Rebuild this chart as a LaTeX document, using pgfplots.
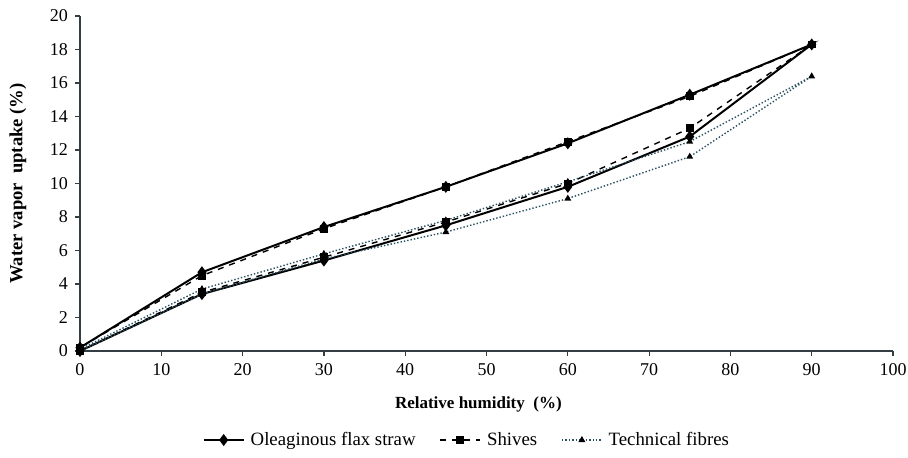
\documentclass[border=0pt]{standalone}
\usepackage{pgfplots}
\pgfplotsset{compat=1.18}
\usetikzlibrary{calc}
\usepackage{fontspec}
\setmainfont{Liberation Serif}
\definecolor{axgray}{RGB}{50,62,68}
\definecolor{dotcol}{RGB}{40,80,95}

\begin{document}
\begin{tikzpicture}[x=1pt,y=1pt]
\begin{axis}[
    name=ax,
    scale only axis,
    width=406.5pt, height=167.5pt,
    xmin=0, xmax=100, ymin=0, ymax=20,
    xtick={0,10,...,100},
    ytick={0,2,...,20},
    axis lines*=left,
    axis line style={axgray, line width=0.9pt},
    tick style={axgray, line width=0.6pt},
    tick align=outside,
    major tick length=2.5pt,
    tick label style={font=\fontsize{9}{10}\selectfont},
    /pgf/number format/assume math mode=true,
    xlabel={\textbf{Relative humidity\ \ (\%)}},
    ylabel={\textbf{Water vapor\ \ uptake (\%)}},
    xlabel style={font=\fontsize{8.5}{9}\selectfont, at={(axis description cs:0.49,-0.161)}, anchor=center},
    ylabel style={font=\fontsize{9.3}{10}\selectfont, at={(axis description cs:-0.0763,0.5)}, anchor=center},
    clip=false,
    legend style={draw=none, at={(0.477,-0.2657)}, anchor=center,
        font=\fontsize{9.4}{10}\selectfont, inner sep=0pt,
        /tikz/every odd column/.append style={column sep=1pt},
        /tikz/every even column/.append style={column sep=10pt}},
    legend columns=3,
    legend cell align=left,
    legend image code/.code={\draw[#1, mark repeat=2, mark phase=2] plot coordinates {(0pt,0pt) (10pt,0pt) (20pt,0pt)};},
]
% Oleaginous flax straw: sorption then desorption
\addplot[black, line width=1pt, mark=diamond*, mark size=2.2pt, mark options={solid}] coordinates {
    (0,0) (15,3.4) (30,5.4) (45,7.5) (60,9.8) (75,12.8) (90,18.3)
    (75,15.3) (60,12.4) (45,9.8) (30,7.4) (15,4.7) (0,0.2)
};
\addlegendentry{Oleaginous flax straw}
% Shives
\addplot[black, line width=0.7pt, dashed, mark=square*, mark size=1.6pt, mark options={solid}] coordinates {
    (0,0) (15,3.5) (30,5.6) (45,7.7) (60,10.0) (75,13.3) (90,18.3)
    (75,15.2) (60,12.5) (45,9.8) (30,7.3) (15,4.5) (0,0.2)
};
\addlegendentry{Shives}
% Technical fibres
\addplot[dotcol, line width=0.7pt, densely dotted, mark=triangle*, mark size=1.3pt, mark options={solid, black}] coordinates {
    (0,0) (15,3.4) (30,5.5) (45,7.1) (60,9.1) (75,11.6) (90,16.4)
    (75,12.5) (60,10.1) (45,7.8) (30,5.8) (15,3.7) (0,0.1)
};
\addlegendentry{Technical fibres}
\end{axis}
\pgfresetboundingbox
\path ($(ax.south west)+(-40pt,-53.5pt)$) rectangle ($(ax.north east)+(7.5pt,8pt)$);
\end{tikzpicture}
\end{document}
